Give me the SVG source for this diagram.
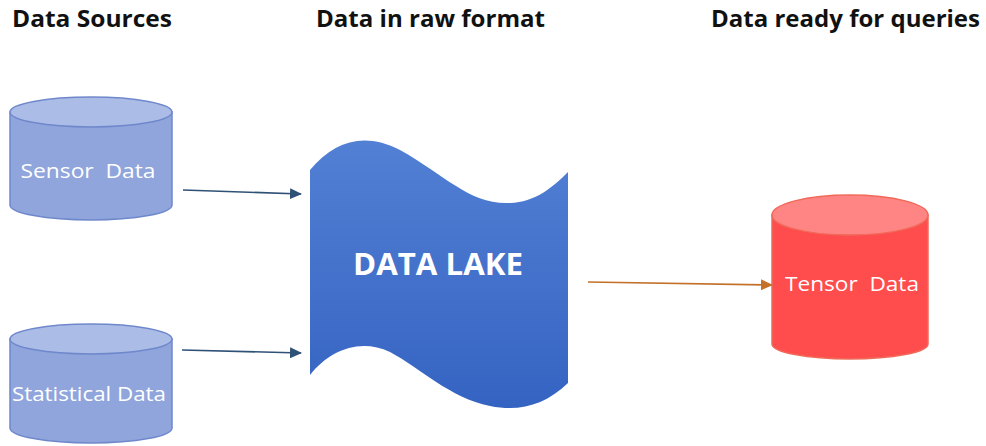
<svg xmlns="http://www.w3.org/2000/svg" width="986" height="446" viewBox="0 0 986 446">
  <style>
    .head { font-family: "Open Sans", "Noto Sans", "Liberation Sans", sans-serif; font-weight: 700; font-size: 23.5px; fill: #111; }
    .lbl { font-family: "Open Sans", "Noto Sans", "Liberation Sans", sans-serif; font-size: 20px; fill: #fff; }
    .blue-body { fill: #8fa5dc; stroke: #6f88cc; stroke-width: 1.5; }
    .blue-top { fill: #abbce7; stroke: #6f88cc; stroke-width: 1.5; }
    .red-body { fill: #ff4c4c; stroke: #f06a5a; stroke-width: 1.5; }
    .red-top { fill: #ff8585; stroke: #f06a5a; stroke-width: 1.5; }
    .link-blue { stroke: #2f5176; stroke-width: 1.6; fill: none; }
    .link-orange { stroke: #c3702a; stroke-width: 1.6; fill: none; }
  </style>
  <defs>
    <marker id="ahBlue" markerWidth="12" markerHeight="11" refX="11" refY="5.5" orient="auto" markerUnits="userSpaceOnUse">
      <path d="M0,0 L12,5.5 L0,11 Z" fill="#2f5176"/>
    </marker>
    <marker id="ahOrange" markerWidth="12" markerHeight="11" refX="11" refY="5.5" orient="auto" markerUnits="userSpaceOnUse">
      <path d="M0,0 L12,5.5 L0,11 Z" fill="#c3702a"/>
    </marker>
    <linearGradient id="lakeFill" x1="0" y1="0" x2="0" y2="1">
      <stop offset="0" stop-color="#5280d4"/>
      <stop offset="1" stop-color="#3563c2"/>
    </linearGradient>
  </defs>

  <rect width="986" height="446" fill="#ffffff"/>

  <!-- column headings -->
  <text class="head" x="12" y="27" textLength="160" lengthAdjust="spacingAndGlyphs">Data Sources</text>
  <text class="head" x="316" y="27" textLength="229" lengthAdjust="spacingAndGlyphs">Data in raw format</text>
  <text class="head" x="711" y="27" textLength="269" lengthAdjust="spacingAndGlyphs">Data ready for queries</text>

  <!-- sensor data cylinder -->
  <g id="sensor-data">
    <path class="blue-body" d="M10,112 L10,205 A81,15 0 0 0 172,205 L172,112 Z"/>
    <ellipse class="blue-top" cx="91" cy="112" rx="81" ry="15"/>
    <text class="lbl" x="88" y="178" text-anchor="middle" xml:space="preserve" textLength="135" lengthAdjust="spacingAndGlyphs">Sensor  Data</text>
  </g>

  <!-- statistical data cylinder -->
  <g id="statistical-data">
    <path class="blue-body" d="M10,339 L10,428 A81,15 0 0 0 172,428 L172,339 Z"/>
    <ellipse class="blue-top" cx="91" cy="339" rx="81" ry="15"/>
    <text class="lbl" x="89" y="401" text-anchor="middle" font-size="22" textLength="154" lengthAdjust="spacingAndGlyphs">Statistical Data</text>
  </g>

  <!-- data lake banner -->
  <g id="data-lake">
    <path fill="url(#lakeFill)" d="M310,170 C335,140 365,132 400,150 C445,175 470,205 510,203 C535,202 552,188 568,172 L568,383 C545,405 520,412 490,406 C450,398 420,368 390,352 C360,338 330,350 310,375 Z"/>
    <text x="438" y="275" text-anchor="middle" font-family="'Open Sans', 'Noto Sans', 'Liberation Sans', sans-serif" font-weight="700" font-size="30" fill="#ffffff" textLength="170" lengthAdjust="spacingAndGlyphs">DATA LAKE</text>
  </g>

  <!-- tensor data cylinder -->
  <g id="tensor-data">
    <path class="red-body" d="M772,215 L772,344 A78,15 0 0 0 928,344 L928,215 Z"/>
    <ellipse class="red-top" cx="850" cy="215" rx="78" ry="20"/>
    <text class="lbl" x="852" y="291" text-anchor="middle" xml:space="preserve" textLength="134" lengthAdjust="spacingAndGlyphs">Tensor  Data</text>
  </g>

  <!-- connectors -->
  <g id="connectors">
    <line class="link-blue" x1="183" y1="190" x2="301" y2="194" marker-end="url(#ahBlue)"/>
    <line class="link-blue" x1="182" y1="350" x2="301" y2="353" marker-end="url(#ahBlue)"/>
    <line class="link-orange" x1="588" y1="282" x2="772" y2="285" marker-end="url(#ahOrange)"/>
  </g>
</svg>
